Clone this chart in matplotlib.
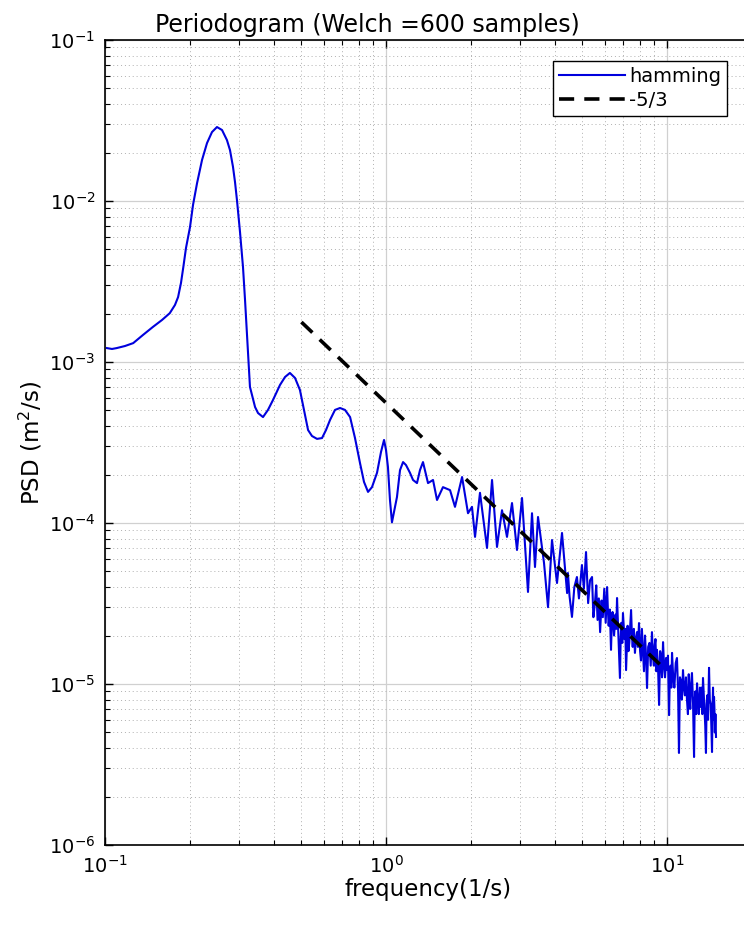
import matplotlib
matplotlib.use('Agg')
import matplotlib.pyplot as plt
from matplotlib.ticker import LogLocator, NullFormatter

# Welch periodogram (frequency in 1/s, PSD in m^2/s)
freq_hz = [0.1016, 0.1059, 0.110, 0.1178, 0.126, 0.1365, 0.148, 0.1595, 0.170, 0.1774,
           0.182, 0.1864, 0.190, 0.1942, 0.2007, 0.2057, 0.2126, 0.2215, 0.2307, 0.2403,
           0.2503, 0.2609, 0.2716, 0.2785, 0.2854, 0.2902, 0.2949, 0.3023, 0.3098, 0.3150,
           0.3200, 0.328, 0.342, 0.3504, 0.365, 0.3802, 0.396, 0.4195, 0.4372, 0.455,
           0.4745, 0.494, 0.5107, 0.528, 0.5452, 0.5682, 0.592, 0.6116, 0.632, 0.6584,
           0.686, 0.7145, 0.745, 0.7757, 0.808, 0.835, 0.863, 0.8915, 0.929, 0.9598,
           0.984, 1.0, 1.016, 1.033, 1.05, 1.068, 1.094, 1.1216, 1.15, 1.178,
           1.217, 1.248, 1.289, 1.321, 1.354, 1.388, 1.411, 1.47, 1.519, 1.595,
           1.69, 1.76, 1.865, 1.958, 2.023, 2.074, 2.16, 2.288, 2.384, 2.483,
           2.587, 2.695, 2.808, 2.925, 3.048, 3.201, 3.308, 3.39, 3.475, 3.65,
           3.772, 3.897, 4.06, 4.23, 4.41, 4.44, 4.50, 4.59, 4.68, 4.78,
           4.86, 4.98, 5.06, 5.15, 5.24, 5.32, 5.41,
           5.47, 5.54, 5.60, 5.66, 5.72, 5.78, 5.85, 5.91, 5.98, 6.05,
           6.12, 6.16, 6.20, 6.26, 6.32, 6.36, 6.40, 6.48, 6.56, 6.60,
           6.64, 6.72, 6.80, 6.84, 6.88, 6.93, 6.97, 7.06, 7.11, 7.15,
           7.24, 7.29, 7.34, 7.40, 7.45, 7.50, 7.55, 7.62, 7.69, 7.75,
           7.82, 7.88, 7.95, 8.02, 8.08, 8.14, 8.21, 8.28, 8.35, 8.42,
           8.49, 8.57, 8.66, 8.75, 8.84, 8.91, 8.98, 9.04, 9.10, 9.16,
           9.21, 9.29, 9.37, 9.45, 9.52, 9.60, 9.68, 9.76, 9.84, 9.92,
           10.0, 10.08, 10.17, 10.24, 10.30, 10.36, 10.42, 10.52, 10.62, 10.74,
           10.85, 10.95, 11.03, 11.12, 11.2, 11.3, 11.4, 11.49, 11.58, 11.68,
           11.78, 11.87, 11.95, 12.02, 12.1, 12.18, 12.27, 12.38, 12.48, 12.55,
           12.62, 12.70, 12.79, 12.88, 12.98, 13.1, 13.21, 13.3, 13.36, 13.43,
           13.52, 13.6, 13.68, 13.76, 13.83, 13.9, 14.0, 14.11, 14.2, 14.3,
           14.38, 14.46, 14.52, 14.58, 14.64, 14.7, 14.75, 14.8, 14.87, 14.94]
psd_hamming = [1.22e-3, 1.205e-3, 1.22e-3, 1.257e-3, 1.31e-3, 1.472e-3, 1.65e-3, 1.823e-3, 2.01e-3, 2.26e-3,
               2.53e-3, 3.10e-3, 3.89e-3, 5.11e-3, 6.89e-3, 9.45e-3, 1.29e-2, 1.80e-2, 2.29e-2, 2.68e-2,
               2.88e-2, 2.76e-2, 2.39e-2, 2.07e-2, 1.63e-2, 1.31e-2, 1.01e-2, 6.42e-3, 3.89e-3, 2.43e-3,
               1.51e-3, 7.0e-4, 5.25e-4, 4.82e-4, 4.55e-4, 5.04e-4, 5.8e-4, 7.2e-4, 8.07e-4, 8.55e-4,
               7.96e-4, 6.7e-4, 5.04e-4, 3.78e-4, 3.47e-4, 3.33e-4, 3.37e-4, 3.78e-4, 4.36e-4, 5.04e-4,
               5.18e-4, 5.04e-4, 4.55e-4, 3.37e-4, 2.36e-4, 1.80e-4, 1.56e-4, 1.67e-4, 2.05e-4, 2.76e-4,
               3.28e-4, 2.84e-4, 2.23e-4, 1.39e-4, 1.01e-4, 1.17e-4, 1.45e-4, 2.13e-4, 2.39e-4, 2.29e-4,
               2.05e-4, 1.85e-4, 1.77e-4, 2.13e-4, 2.39e-4, 1.99e-4, 1.77e-4, 1.85e-4, 1.39e-4, 1.67e-4,
               1.60e-4, 1.26e-4, 1.93e-4, 1.15e-4, 1.26e-4, 8.2e-5, 1.54e-4, 7.0e-5, 1.85e-4, 7.1e-5,
               1.2e-4, 8.2e-5, 1.33e-4, 6.8e-5, 1.43e-4, 3.73e-5, 1.15e-4, 5.33e-5, 1.09e-4, 5.65e-5,
               3.0e-5, 7.84e-5, 4.24e-5, 8.67e-5, 3.67e-5, 4.89e-5, 3.5e-5, 2.61e-5, 4.0e-5, 4.62e-5,
               3.4e-5, 5.48e-5, 3.9e-5, 6.6e-5, 3.18e-5, 4.4e-5, 4.62e-5,
               2.6e-5, 3.18e-5, 4.1e-5, 2.5e-5, 3.4e-5, 2.1e-5, 3.3e-5, 2.6e-5, 3.9e-5, 2.4e-5,
               4.0e-5, 2.9e-5, 2.3e-5, 2.9e-5, 1.63e-5, 2.4e-5, 2.8e-5, 2.0e-5, 2.7e-5, 2.2e-5,
               3.42e-5, 1.9e-5, 1.09e-5, 1.9e-5, 2.4e-5, 1.8e-5, 2.76e-5, 1.9e-5, 2.2e-5, 1.22e-5,
               2.3e-5, 1.6e-5, 1.8e-5, 2.3e-5, 2.88e-5, 2.0e-5, 1.7e-5, 2.2e-5, 1.56e-5, 1.9e-5,
               2.1e-5, 1.7e-5, 2.39e-5, 1.6e-5, 1.4e-5, 2.2e-5, 1.63e-5, 1.2e-5, 2.0e-5, 1.5e-5,
               9.44e-6, 1.7e-5, 1.8e-5, 1.3e-5, 2.1e-5, 1.5e-5, 1.3e-5, 1.75e-5, 1.9e-5, 1.2e-5,
               1.63e-5, 1.3e-5, 7.41e-6, 1.6e-5, 1.5e-5, 1.1e-5, 1.82e-5, 1.3e-5, 1.1e-5, 1.45e-5,
               1.22e-5, 1.5e-5, 6.41e-6, 1.2e-5, 1.3e-5, 9.5e-6, 1.56e-5, 1.1e-5, 9.5e-6, 1.35e-5,
               1.45e-5, 9.0e-6, 3.73e-6, 1.1e-5, 1.05e-5, 8.0e-6, 1.22e-5, 9.5e-6, 8.5e-6, 1.1e-5,
               7.96e-6, 6.5e-6, 1.15e-5, 8.5e-6, 7.0e-6, 1.0e-5, 1.17e-5, 7.5e-6, 3.52e-6, 8.0e-6,
               9.0e-6, 6.5e-6, 1.01e-5, 8.0e-6, 6.5e-6, 9.5e-6, 7.2e-6, 9.5e-6, 6.5e-6, 1.09e-5,
               8.5e-6, 7.0e-6, 5.5e-6, 3.73e-6, 7.5e-6, 8.5e-6, 6.0e-6, 1.26e-5, 8.0e-6, 7.5e-6,
               5.5e-6, 3.78e-6, 7.0e-6, 9.5e-6, 6.0e-6, 8.3e-6, 7.0e-6, 5.0e-6, 6.5e-6, 4.69e-6]

# -5/3 reference slope, end points
slope_freq = [0.5, 10.0]
slope_psd = [1.77e-3, 1.2e-5]

title = 'Periodogram (Welch =600 samples)'
xlabel = 'frequency(1/s)'
ylabel = 'PSD (m$^2$/s)'
legend_labels = ['hamming', '-5/3']

plt.rcParams['font.family'] = ['DejaVu Sans']

fig = plt.figure(figsize=(7.44, 9.25), dpi=100)
ax = fig.add_axes([105 / 744, 80 / 925, 646.6 / 744, 805 / 925])

ax.loglog(freq_hz, psd_hamming, color='#0000dd', lw=1.5, label=legend_labels[0])
ax.loglog(slope_freq, slope_psd, color='black', lw=2.6, dashes=(4.2, 2.8),
          label=legend_labels[1])

ax.set_xlim(0.1, 20)
ax.set_ylim(1e-6, 1e-1)

ax.xaxis.set_major_locator(LogLocator(base=10, numticks=10))
ax.xaxis.set_minor_locator(LogLocator(base=10, subs=range(2, 10), numticks=20))
ax.yaxis.set_minor_locator(LogLocator(base=10, subs=range(2, 10), numticks=20))
ax.xaxis.set_minor_formatter(NullFormatter())
ax.yaxis.set_minor_formatter(NullFormatter())

ax.grid(True, which='major', color='#d0d0d0', lw=0.9, ls='-')
ax.grid(True, which='minor', color='#b0b0b0', lw=0.7, ls=(0, (1, 3)))
ax.set_axisbelow(True)

ax.tick_params(which='both', direction='in', top=True, right=True, labelsize=14, pad=7)
ax.tick_params(which='major', length=6, width=1)
ax.tick_params(which='minor', length=3.5, width=0.8)
for sp in ax.spines.values():
    sp.set_linewidth(1.2)

ax.set_title(title, fontsize=17, x=(367 - 105) / 646.6, pad=6)
ax.set_xlabel(xlabel, fontsize=16.5, labelpad=1)
ax.set_ylabel(ylabel, fontsize=16.5, labelpad=3)

leg = ax.legend(loc='upper right', bbox_to_anchor=(727 / 744, 1 - 61 / 925),
                bbox_transform=fig.transFigure, borderaxespad=0, fontsize=14,
                handlelength=3.4, handletextpad=0.2, borderpad=0.3,
                labelspacing=0.25, fancybox=False, framealpha=1, edgecolor='black')
leg.get_frame().set_linewidth(1.0)

fig.savefig('out.png', dpi=100)
